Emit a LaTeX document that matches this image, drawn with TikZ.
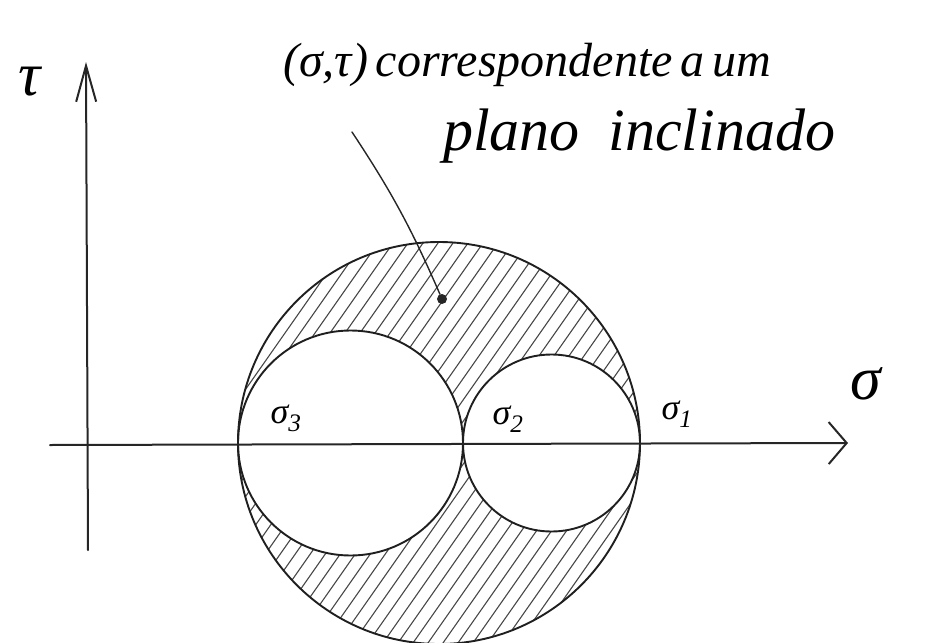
\documentclass[tikz,border=0pt]{standalone}
\usepackage{fontspec}
\setmainfont{Liberation Serif}
\usetikzlibrary{arrows.meta}
\begin{document}
\begin{tikzpicture}[x=1pt,y=-1pt,line cap=round,line join=round]
\tikzset{
  axisline/.style={line width=2pt,black!85},
  circ/.style={line width=1.9pt,black!88},
  hatch/.style={line width=1.1pt,black!72},
  lbl/.style={inner sep=0pt},
  bigsym/.style={lbl,font=\fontsize{62}{66}\selectfont\itshape},
  sublbl/.style={lbl,font=\fontsize{36}{42}\selectfont\itshape},
  hand1/.style={lbl,anchor=base west,font=\fontsize{48}{54}\selectfont\itshape},
  hand2/.style={lbl,anchor=base west,font=\fontsize{60}{66}\selectfont\itshape}
}
\useasboundingbox (0,0) rectangle (927,643);
% named points
\coordinate (xs) at (50,445);
\coordinate (xe) at (848,443);
\coordinate (ys) at (88,550);
\coordinate (ye) at (86,62);
\coordinate (cbig) at (439,443);
\coordinate (cl) at (350.5,443);
\coordinate (cr) at (551.5,443);
% hatching between the circles
\begin{scope}[even odd rule]
  \clip (cbig) circle[radius=201] (cl) circle[radius=112.5] (cr) circle[radius=88.5];
  \foreach \k in {-10,...,37}{
    \draw[hatch] ({238+\k*15-143.4},{443+204.8}) -- ++(286.8,-409.6);
  }
\end{scope}
% circles
\draw[circ] (cbig) circle[radius=201];
\draw[circ] (cl) circle[radius=112.5];
\draw[circ] (cr) circle[radius=88.5];
% axes
\draw[axisline,-{Straight Barb[length=18pt,width=42pt,line width=2pt]}] (xs) -- (xe);
\draw[axisline,-{Straight Barb[length=36pt,width=20pt,line width=2pt]}] (ys) -- (ye);
% labels
\node[bigsym] (tau) at (30,82) {τ};
\node[bigsym] (sig) at (866,384) {σ};
\node[sublbl] (s3) at (286,418) {σ\textsubscript{3}};
\node[sublbl] (s2) at (508,419) {σ\textsubscript{2}};
\node[sublbl] (s1) at (677,414) {σ\textsubscript{1}};
% point and annotation
\node[circle,fill=black!85,inner sep=0pt,minimum size=10pt] (pt) at (442,299) {};
\coordinate (ls) at (352,132);
\draw[line width=1.4pt,black!85] (ls) to[bend left=5] (pt);
\node[hand1] (t1) at (283,76) {\makebox[487pt][s]{(σ,τ) correspondente a um}};
\node[hand2] (t2) at (443,150) {\makebox[392pt][s]{plano inclinado}};
\end{tikzpicture}
\end{document}
